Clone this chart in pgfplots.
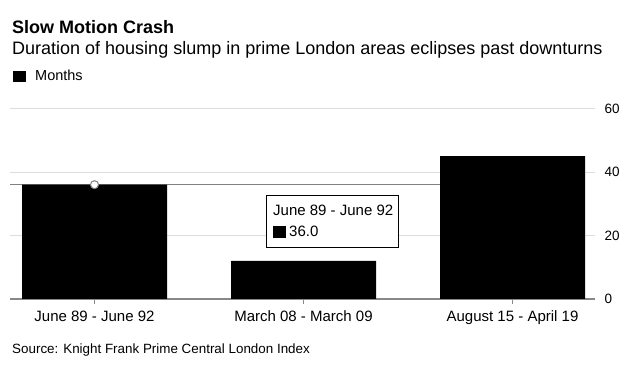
\documentclass[border=0pt]{standalone}
\usepackage{pgfplots}
\pgfplotsset{compat=1.18}
\usepackage{fontspec}
\setmainfont{Liberation Sans}
\definecolor{gridgray}{HTML}{DDDDDD}
\definecolor{axgray}{HTML}{888888}
\definecolor{linegray}{HTML}{808080}
\begin{document}
\begin{tikzpicture}[x=1pt,y=1pt]
\path[use as bounding box] (0,0) rectangle (640,369);
\begin{axis}[
  at={(10pt,70pt)}, anchor=south west,
  scale only axis, width=585pt, height=190.5pt,
  xmin=-0.4043, xmax=2.3947, ymin=0, ymax=60,
  axis x line*=bottom, axis y line*=right,
  x axis line style={axgray, line width=1.3pt},
  y axis line style={draw=none},
  xtick={0,1,2},
  xticklabels={June 89 - June 92, March 08 - March 09, August 15 - April 19},
  xtick style={axgray, line width=1pt},
  major tick length=5pt, tick align=outside,
  ytick={0,20,40,60},
  ytick style={draw=none},
  ymajorgrids, grid style={gridgray, line width=0.9pt},
  yticklabel pos=right,
  /pgf/number format/assume math mode=true,
  yticklabel style={font=\fontsize{13.5}{16}\selectfont, anchor=west, xshift=1pt},
  xticklabel style={font=\fontsize{15}{18}\selectfont, yshift=-3pt},
  clip=false,
]
\addplot[linegray, line width=1.5pt] coordinates {(-0.4043,36) (2.3,36)};
\addplot[ybar, fill=black, draw=none, bar width=145pt] coordinates {(0,36) (1,12) (2,45)};
\addplot[only marks, mark=*, mark size=4pt, mark options={fill=white, draw=linegray, line width=1pt}] coordinates {(0,36)};
\end{axis}
% titles
\node[anchor=base west, inner sep=0, font=\fontsize{18}{21.6}\selectfont\bfseries] at (12,335.5) {Slow Motion Crash};
\node[anchor=base west, inner sep=0, font=\fontsize{18}{21.6}\selectfont] at (12,314) {Duration of housing slump in prime London areas eclipses past downturns};
% legend
\fill[black] (13,287) rectangle (26,298);
\node[anchor=base west, inner sep=0, font=\fontsize{14.5}{17}\selectfont] at (35,288) {Months};
% tooltip
\draw[black, line width=0.8pt, fill=white] (266,122) rectangle (398,174);
\node[anchor=base west, inner sep=0, font=\fontsize{15}{18}\selectfont] at (273,153) {June 89 - June 92};
\fill[black] (273,131) rectangle (286,143);
\node[anchor=base west, inner sep=0, font=\fontsize{15}{18}\selectfont] at (289,132) {36.0};
% source
\node[anchor=base west, inner sep=0, font=\fontsize{13.4}{16}\selectfont] at (12,15) {Source: Knight Frank Prime Central London Index};
\end{tikzpicture}
\end{document}
